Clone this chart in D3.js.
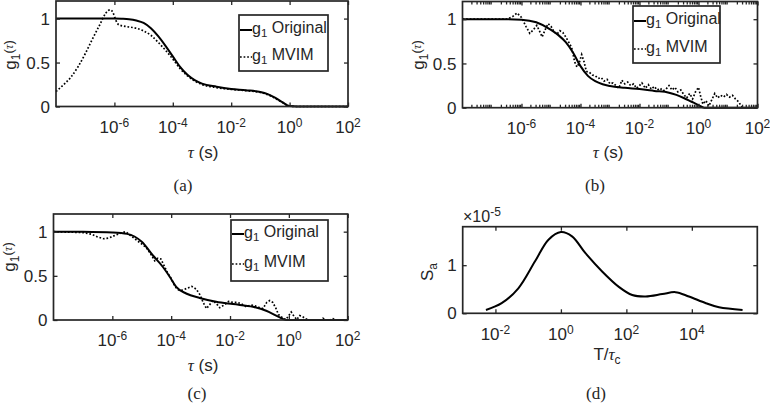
<!DOCTYPE html>
<html><head><meta charset="utf-8">
<script src="https://cdn.jsdelivr.net/npm/d3@7"></script>
<style>
body{margin:0;background:#fff}
svg{display:block}
text{font-family:"Liberation Sans",Arial,Helvetica,sans-serif;fill:#262626}
.serif{font-family:"Liberation Serif","Times New Roman",serif}
</style>
</head><body>
<svg id="chart" width="770" height="406"></svg>
<script>
// ---------------- data ----------------
// tick values
const xTickExpG = [-6, -4, -2, 0, 2];          // tau axis labels 10^k
const yTicksG = [0, 0.5, 1];
const xTickExpD = [-2, 0, 2, 4];
const yTicksD = [0, 1e-5];

// (a) original
const expOrigA = [-8,-7,-6,-5.75,-5.5,-5.25,-5,-4.75,-4.5,-4.25,-4,-3.75,-3.5,-3.25,-3,-2.5,-2,-1.5,-1,-0.75,-0.5,-0.25,0,0.25,1,2];
const valOrigA = [1,1,1,0.998,0.993,0.978,0.95,0.89,0.8,0.69,0.57,0.45,0.36,0.3,0.26,0.225,0.2,0.185,0.165,0.14,0.1,0.05,0.005,0,0,0];
// (a) MVIM
const expMvimA = [-8,-7.8,-7.5,-7.25,-7,-6.75,-6.5,-6.3,-6.15,-6.05,-5.95,-5.85,-5.6,-5.25,-5,-4.75,-4.5,-4.25,-4,-3.75,-3.5,-3.25,-3,-2.5,-2,-1.5,-1,-0.75,-0.5,-0.25,0,0.25,1,2];
const valMvimA = [0.17,0.23,0.33,0.45,0.6,0.77,0.93,1.06,1.1,1.07,0.98,0.93,0.91,0.89,0.86,0.81,0.73,0.64,0.54,0.43,0.35,0.29,0.25,0.215,0.195,0.18,0.16,0.135,0.095,0.045,0.005,0,0,0];

// (b) original
const expOrigB = [-8,-7,-6.5,-6,-5.5,-5,-4.75,-4.5,-4.25,-4,-3.75,-3.5,-3.25,-3,-2.5,-2,-1.5,-1,-0.75,-0.5,-0.25,0,0.2,1,2];
const valOrigB = [1,1,1,0.995,0.965,0.88,0.82,0.74,0.62,0.47,0.36,0.3,0.265,0.245,0.225,0.21,0.19,0.17,0.145,0.11,0.07,0.03,0,0,0];
// (b) MVIM
const expMvimB = [-8,-7,-6.5,-6.3,-6.15,-6.0,-5.85,-5.72,-5.6,-5.48,-5.38,-5.3,-5.2,-5.1,-5.0,-4.9,-4.8,-4.7,-4.6,-4.5,-4.4,-4.3,-4.2,-4.12,-4.05,-3.96,-3.88,-3.8,-3.7,-3.6,-3.5,-3.4,-3.3,-3.2,-3.1,-3.0,-2.9,-2.8,-2.7,-2.6,-2.5,-2.4,-2.3,-2.2,-2.1,-2.0,-1.92,-1.8,-1.7,-1.6,-1.5,-1.4,-1.3,-1.2,-1.1,-1.0,-0.9,-0.8,-0.7,-0.6,-0.5,-0.4,-0.3,-0.2,-0.1,0.0,0.08,0.15,0.25,0.35,0.45,0.55,0.65,0.75,0.85,0.95,1.05,1.15,1.25,1.35,1.45,1.5];
const valMvimB = [1,1,1.0,1.03,1.07,1.02,0.92,0.84,0.88,0.93,0.86,0.80,0.88,0.95,0.92,0.86,0.83,0.87,0.85,0.80,0.74,0.68,0.52,0.46,0.50,0.60,0.52,0.41,0.40,0.37,0.36,0.33,0.34,0.30,0.32,0.27,0.28,0.25,0.22,0.31,0.27,0.29,0.25,0.27,0.22,0.25,0.28,0.22,0.26,0.21,0.24,0.20,0.22,0.19,0.21,0.25,0.20,0.23,0.18,0.20,0.15,0.11,0.16,0.10,0.18,0.23,0.12,0.04,0.08,0.02,0.09,0.16,0.11,0.14,0.12,0.15,0.12,0.14,0.10,0.07,0.02,0];

// (c) original
const expOrigC = [-8,-7,-6,-5.5,-5,-4.62,-4.28,-4.05,-3.83,-3.49,-3.03,-2.47,-1.9,-1.22,-0.77,-0.31,-0.09,0.5,2];
const valOrigC = [1,0.998,0.99,0.975,0.885,0.73,0.6,0.49,0.376,0.3,0.25,0.207,0.18,0.15,0.105,0.03,0,0,0];
// (c) MVIM
const expMvimC = [-8,-7.5,-7,-6.7,-6.5,-6.3,-6.1,-5.9,-5.7,-5.55,-5.4,-5.2,-5.0,-4.85,-4.7,-4.56,-4.45,-4.35,-4.22,-4.1,-4.0,-3.9,-3.8,-3.7,-3.6,-3.45,-3.3,-3.15,-3.03,-2.9,-2.8,-2.7,-2.58,-2.45,-2.35,-2.2,-2.05,-1.9,-1.75,-1.6,-1.45,-1.3,-1.15,-1.0,-0.88,-0.75,-0.65,-0.55,-0.45,-0.35,-0.2,-0.1,0.0,0.08,0.18,0.27,0.37,0.46,0.56,0.7,0.9,1.1,1.16,1.25,1.4,1.5,1.56];
const valMvimC = [1,0.995,0.99,0.97,0.94,0.92,0.93,0.96,0.985,1.0,0.96,0.91,0.86,0.82,0.75,0.67,0.7,0.69,0.60,0.52,0.47,0.40,0.35,0.335,0.34,0.36,0.38,0.35,0.29,0.19,0.13,0.17,0.22,0.18,0.14,0.17,0.21,0.2,0.2,0.18,0.15,0.17,0.16,0.14,0.13,0.2,0.22,0.2,0.14,0.06,0.02,0.005,0.05,0.09,0.04,0.005,0.05,0.04,0.015,0,0,0,0.02,0,0,0.015,0];

// (d) spectrum S_a vs T/tau_c
const expD = [-2.29,-1.81,-1.3,-0.79,-0.38,0,0.34,0.75,1.26,1.77,2.18,2.59,3.1,3.5,3.91,4.43,4.83,5.55];
const valD = [0.07e-5,0.21e-5,0.52e-5,1.08e-5,1.53e-5,1.69e-5,1.6e-5,1.25e-5,0.87e-5,0.55e-5,0.38e-5,0.35e-5,0.40e-5,0.44e-5,0.35e-5,0.21e-5,0.125e-5,0.07e-5];

// ---------------- drawing ----------------
const svg = d3.select("#chart");
const INK = "#262626";
const FS = 17, FSE = 12;

function pts(exps, vals){ return exps.map((e,i)=>[Math.pow(10,e), vals[i]]); }

function panel(o){
  const g = svg.append("g");
  const x = d3.scaleLog().domain(o.xDomain).range([o.l, o.r]);
  const y = d3.scaleLinear().domain(o.yDomain).range([o.b, o.t]);
  const xt = o.xTickExp.map(e=>Math.pow(10,e));
  o.series.forEach(s=>{
    const line = d3.line().x(d=>x(d[0])).y(d=>y(d[1])).curve(s.curve || d3.curveMonotoneX);
    g.append("path").datum(s.data).attr("d", line)
      .attr("fill","none").attr("stroke","#000")
      .attr("stroke-width", s.dotted ? 1.7 : 2)
      .attr("stroke-dasharray", s.dotted ? "1.7,1.9" : null);
  });
  const tl = 4;
  g.append("g").attr("transform",`translate(0,${o.b})`)
    .call(d3.axisBottom(x).tickValues(xt).tickSize(-tl).tickFormat(""));
  g.append("g").attr("transform",`translate(0,${o.t})`)
    .call(d3.axisTop(x).tickValues(xt).tickSize(-tl).tickFormat(""));
  g.append("g").attr("transform",`translate(${o.l},0)`)
    .call(d3.axisLeft(y).tickValues(o.yTicks).tickSize(-tl).tickFormat(""));
  g.append("g").attr("transform",`translate(${o.r},0)`)
    .call(d3.axisRight(y).tickValues(o.yTicks).tickSize(-tl).tickFormat(""));
  if (o.minor){
    const minors = [];
    for (let k=-8;k<2;k++) for (let m=2;m<10;m++) minors.push(m*Math.pow(10,k));
    g.append("g").attr("transform",`translate(0,${o.b})`)
      .call(d3.axisBottom(x).tickValues(minors).tickSize(-3).tickFormat(""));
    g.append("g").attr("transform",`translate(0,${o.t})`)
      .call(d3.axisTop(x).tickValues(minors).tickSize(-3).tickFormat(""));
  }
  g.selectAll(".domain").remove();
  g.selectAll(".tick line").attr("stroke",INK).attr("stroke-width",1.3);
  g.append("rect").attr("x",o.l).attr("y",o.t).attr("width",o.r-o.l).attr("height",o.b-o.t)
    .attr("fill","none").attr("stroke",INK).attr("stroke-width",1.7);
  const xl = g.selectAll(".xl").data(o.xTickExp).join("text")
    .attr("x", e=>x(Math.pow(10,e))).attr("y", o.b+o.xLabDy)
    .attr("text-anchor","middle").attr("font-size",FS);
  xl.append("tspan").text("10");
  xl.append("tspan").attr("dy","-0.5em").attr("font-size",FSE).text(e=>e<0? "-"+(-e) : String(e));
  g.selectAll(".yl").data(o.yTicks).join("text")
    .attr("x", o.l-6).attr("y", v=>y(v)).attr("dy","0.36em")
    .attr("text-anchor","end").attr("font-size",FS)
    .text(o.yFmt);
  return {g,x,y};
}

function gLabel(cx, cy){
  const t = svg.append("text").attr("transform",`translate(${cx},${cy}) rotate(-90)`)
    .attr("text-anchor","middle").attr("font-size",FS);
  t.append("tspan").text("g");
  t.append("tspan").attr("dy","0.3em").attr("font-size",12).text("1");
  t.append("tspan").attr("dy","-0.5em").attr("font-size",13).text("(");
  t.append("tspan").attr("class","serif").attr("font-style","italic").attr("font-size",13).text("τ");
  t.append("tspan").attr("font-size",13).text(")");
}
function tauLabel(cx, by){
  const t = svg.append("text").attr("x",cx).attr("y",by).attr("text-anchor","middle").attr("font-size",FS);
  t.append("tspan").attr("class","serif").attr("font-style","italic").text("τ");
  t.append("tspan").text(" (s)");
}
function caption(cx, by, s){
  svg.append("text").attr("class","serif").attr("x",cx).attr("y",by).attr("text-anchor","middle")
    .attr("font-size",17).attr("fill","#000").text(s);
}
function legend(x0,y0,w,h,r1,r2){
  const g = svg.append("g");
  g.append("rect").attr("x",x0).attr("y",y0).attr("width",w).attr("height",h)
    .attr("fill","#fff").attr("stroke",INK).attr("stroke-width",1.7);
  const rows = [{y:r1, name:" Original", dotted:false},{y:r2, name:" MVIM", dotted:true}];
  rows.forEach(rw=>{
    g.append("line").attr("x1",x0+1).attr("x2",x0+13).attr("y1",rw.y).attr("y2",rw.y)
      .attr("stroke","#000").attr("stroke-width", rw.dotted?1.7:2)
      .attr("stroke-dasharray", rw.dotted?"1.7,1.9":null);
    const t = g.append("text").attr("x",x0+13).attr("y",rw.y+4).attr("font-size",16);
    t.append("tspan").text("g");
    t.append("tspan").attr("dy","0.3em").attr("font-size",11.5).text("1");
    t.append("tspan").attr("dy","-0.3em").text(rw.name);
  });
}

const fmtG = v => v===0.5 ? "0.5" : String(v);

// (a)
panel({l:56,r:348,t:1,b:106.5,xDomain:[1e-8,1e2],yDomain:[0,1.2],xTickExp:xTickExpG,yTicks:yTicksG,yFmt:fmtG,xLabDy:26,
  series:[{data:pts(expOrigA,valOrigA)},{data:pts(expMvimA,valMvimA),dotted:true}]});
legend(239,15,89,56,30,57);
gLabel(16,55); tauLabel(203,158); caption(183,191,"(a)");

// (b)
panel({l:462.5,r:757.5,t:1.5,b:107.7,xDomain:[1e-8,1e2],yDomain:[0,1.2],xTickExp:xTickExpG,yTicks:yTicksG,yFmt:fmtG,xLabDy:26,minor:true,
  series:[{data:pts(expOrigB,valOrigB)},{data:pts(expMvimB,valMvimB),dotted:true,curve:d3.curveLinear}]});
legend(633,6,87,57,21,49);
gLabel(424,55); tauLabel(608,158); caption(595,191,"(b)");

// (c)
panel({l:53.5,r:347.7,t:214,b:320,xDomain:[1e-8,1e2],yDomain:[0,1.2],xTickExp:xTickExpG,yTicks:yTicksG,yFmt:fmtG,xLabDy:26,
  series:[{data:pts(expOrigC,valOrigC)},{data:pts(expMvimC,valMvimC),dotted:true,curve:d3.curveLinear}]});
legend(231,220,97,61,234,264);
gLabel(15,257); tauLabel(203,371); caption(197,399,"(c)");

// (d)
panel({l:462.7,r:757.3,t:226.7,b:313.3,xDomain:[1e-3,1e6],yDomain:[0,1.8e-5],xTickExp:xTickExpD,yTicks:yTicksD,yFmt:v=>String(Math.round(v/1e-5)),xLabDy:27,
  series:[{data:pts(expD,valD),curve:d3.curveCatmullRom}]});
{
  const t = svg.append("text").attr("x",463).attr("y",222).attr("font-size",16);
  t.append("tspan").text("×10");
  t.append("tspan").attr("dy","-0.5em").attr("font-size",12).text("-5");
}
{
  const t = svg.append("text").attr("transform","translate(433,272) rotate(-90)").attr("text-anchor","middle").attr("font-size",FS);
  t.append("tspan").text("S");
  t.append("tspan").attr("dy","0.3em").attr("font-size",12).text("a");
}
{
  const t = svg.append("text").attr("x",607).attr("y",360).attr("text-anchor","middle").attr("font-size",FS);
  t.append("tspan").text("T/");
  t.append("tspan").attr("class","serif").attr("font-style","italic").text("τ");
  t.append("tspan").attr("dy","0.3em").attr("font-size",12).text("c");
}
caption(596,399,"(d)");
</script>
</body></html>
